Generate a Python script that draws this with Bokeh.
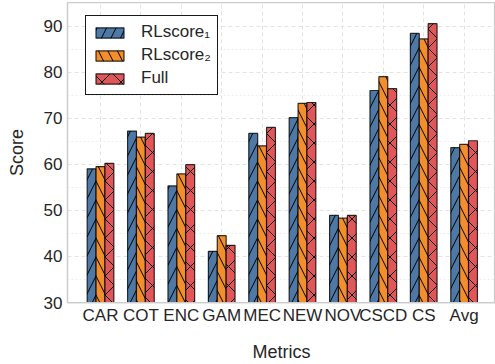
import numpy as np
from bokeh.plotting import figure
from bokeh.models import FixedTicker, Legend, LegendItem, ColumnDataSource
from bokeh.embed import file_html
from bokeh.resources import INLINE

categories = ["CAR", "COT", "ENC", "GAM", "MEC", "NEW", "NOV", "CSCD", "CS", "Avg"]
rlscore1 = [59.0, 67.2, 55.3, 41.1, 66.7, 70.1, 48.9, 76.0, 88.4, 63.6]
rlscore2 = [59.5, 65.9, 57.9, 44.5, 64.0, 73.2, 48.3, 79.0, 87.2, 64.3]
full = [60.2, 66.7, 59.9, 42.4, 68.0, 73.4, 48.9, 76.4, 90.5, 65.1]
series_names = ["RLscore\u2081", "RLscore\u2082", "Full"]
colors = ["#4e79a7", "#f28e2b", "#e15759"]
hatches = ["right_diagonal_line", "left_diagonal_line", "diagonal_cross"]
y_ticks = [30, 40, 50, 60, 70, 80, 90]
y_minor = [35, 45, 55, 65, 75, 85]

FONT = "Liberation Sans"
TXT = "#262626"

idx = np.arange(len(categories))
bw = 0.22
offsets = [-bw, 0.0, bw]

p = figure(width=495, height=364, output_backend="svg", toolbar_location=None,
           x_range=(-0.817, 9.777), y_range=(30, 95.1),
           min_border_left=67, min_border_right=0, min_border_top=2, min_border_bottom=62)

p.background_fill_color = "white"
p.border_fill_color = "white"
p.outline_line_color = "#cccccc"
p.outline_line_width = 1.25

renderers = []
for vals, off, col, hat in zip([rlscore1, rlscore2, full], offsets, colors, hatches):
    src = ColumnDataSource(dict(x=idx + off, top=vals))
    r = p.vbar(x="x", top="top", bottom=30, width=bw, source=src,
               fill_color=col, line_color="black", line_alpha=0.8, line_width=1.2,
               hatch_pattern=hat, hatch_color="black", hatch_scale=19, hatch_weight=1.0)
    renderers.append(r)

# axes
p.xaxis.ticker = FixedTicker(ticks=list(idx))
p.xaxis.major_label_overrides = {int(i): c for i, c in zip(idx, categories)}
p.yaxis.ticker = FixedTicker(ticks=y_ticks, minor_ticks=y_minor)

for ax in (p.xaxis[0], p.yaxis[0]):
    ax.axis_line_color = "#cccccc"
    ax.axis_line_width = 1.25
    ax.major_tick_line_color = None
    ax.minor_tick_line_color = None
    ax.major_tick_out = 0
    ax.major_tick_in = 0
    ax.minor_tick_out = 0
    ax.minor_tick_in = 0
    ax.major_label_text_font = FONT
    ax.major_label_text_font_size = "17px"
    ax.major_label_text_color = TXT
    ax.axis_label_text_font = FONT
    ax.axis_label_text_font_size = "18px"
    ax.axis_label_text_font_style = "normal"
    ax.axis_label_text_color = TXT

p.xaxis.axis_label = "Metrics"
p.yaxis.axis_label = "Score"
p.xaxis.major_label_standoff = 3
p.xaxis.axis_label_standoff = 14
p.yaxis.major_label_standoff = 5
p.yaxis.axis_label_standoff = 14

# grid
p.xgrid.grid_line_color = "#e3e3e3"
p.xgrid.grid_line_dash = "4 3"
p.xgrid.grid_line_width = 1
p.ygrid.grid_line_color = "#e3e3e3"
p.ygrid.grid_line_dash = "4 3"
p.ygrid.grid_line_width = 1
p.ygrid.minor_grid_line_color = "#efefef"
p.ygrid.minor_grid_line_dash = "2 2"
p.ygrid.minor_grid_line_width = 1

legend = Legend(items=[LegendItem(label=n, renderers=[r]) for n, r in zip(series_names, renderers)])
legend.margin = 0
legend.padding = 6
legend.spacing = 3
legend.label_height = 20
legend.glyph_width = 35
legend.glyph_height = 13
legend.label_text_font = FONT
legend.label_text_font_size = "17px"
legend.label_text_color = TXT
legend.label_standoff = 14
legend.border_line_color = "black"
legend.border_line_width = 1.3
legend.border_line_alpha = 0.9
legend.background_fill_color = "white"
legend.background_fill_alpha = 1.0
p.add_layout(legend, "center")
legend.location = (18, 207)

open("out.html", "w").write(file_html(p, INLINE))
